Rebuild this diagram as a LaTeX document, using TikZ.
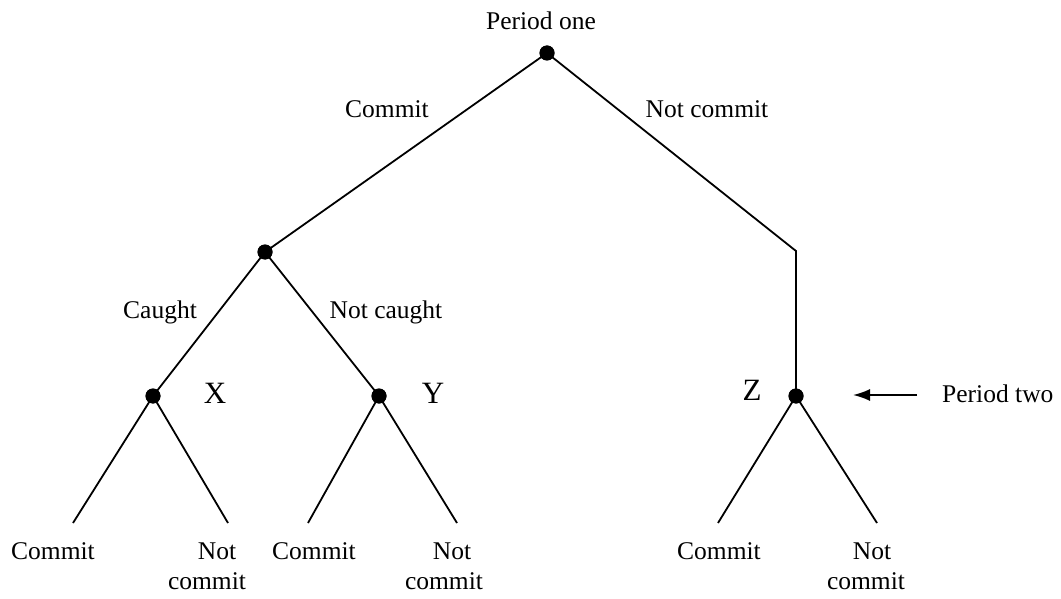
\documentclass[tikz,border=0pt]{standalone}
\usepackage{fontspec}
\setmainfont{Liberation Serif}
\usetikzlibrary{arrows.meta}
\begin{document}
\begin{tikzpicture}[x=1pt,y=-1pt,
  dot/.style={circle,fill=black,inner sep=0pt,minimum size=15pt},
  edge/.style={line width=1.8pt},
  lbl/.style={font=\fontsize{25.5}{30}\selectfont,inner sep=0pt,anchor=base},
  big/.style={font=\fontsize{31}{34}\selectfont,inner sep=0pt,anchor=base}]
\useasboundingbox (0,0) rectangle (1061,599);
% decision nodes
\node[dot] (root) at (547,53) {};
\node[dot] (A) at (265,252) {};
\coordinate (bend) at (796,251);
\node[dot] (X) at (153,396) {};
\node[dot] (Y) at (379,396) {};
\node[dot] (Z) at (796,396) {};
% leaf ends
\coordinate (x1) at (73,523);
\coordinate (x2) at (228,523);
\coordinate (y1) at (308,523);
\coordinate (y2) at (457,523);
\coordinate (z1) at (718,523);
\coordinate (z2) at (877,523);
% edges
\draw[edge] (root.center) -- (A.center);
\draw[edge,line join=miter] (root.center) -- (bend) -- (Z.center);
\draw[edge] (A.center) -- (X.center);
\draw[edge] (A.center) -- (Y.center);
\draw[edge] (X.center) -- (x1);
\draw[edge] (X.center) -- (x2);
\draw[edge] (Y.center) -- (y1);
\draw[edge] (Y.center) -- (y2);
\draw[edge] (Z.center) -- (z1);
\draw[edge] (Z.center) -- (z2);
% dots on top
\node[dot] at (root) {};
\node[dot] at (A) {};
\node[dot] at (X) {};
\node[dot] at (Y) {};
\node[dot] at (Z) {};
% labels
\node[lbl] (p1) at (541,30) {Period one};
\node[lbl] (lc) at (387,118) {Commit};
\node[lbl] (lnc) at (707,118) {Not commit};
\node[lbl] (lca) at (160,318) {Caught};
\node[lbl] (lnca) at (386,318) {Not caught};
\node[big] (lx) at (215,403) {X};
\node[big] (ly) at (433,403) {Y};
\node[big] (lz) at (752,400) {Z};
\node[lbl,anchor=base west] (p2) at (942,402) {Period two};
\coordinate (arrs) at (917,395);
\coordinate (arre) at (853,395);
\draw[edge,-{Latex[length=17pt,width=12pt]}] (arrs) -- (arre);
% leaf labels
\node[lbl] (t1) at (53,559) {Commit};
\node[lbl] (t2a) at (217,559) {Not};
\node[lbl] (t2b) at (207,589) {commit};
\node[lbl] (t3) at (314,559) {Commit};
\node[lbl] (t4a) at (452,559) {Not};
\node[lbl] (t4b) at (444,589) {commit};
\node[lbl] (t5) at (719,559) {Commit};
\node[lbl] (t6a) at (872,559) {Not};
\node[lbl] (t6b) at (866,589) {commit};
\end{tikzpicture}
\end{document}
